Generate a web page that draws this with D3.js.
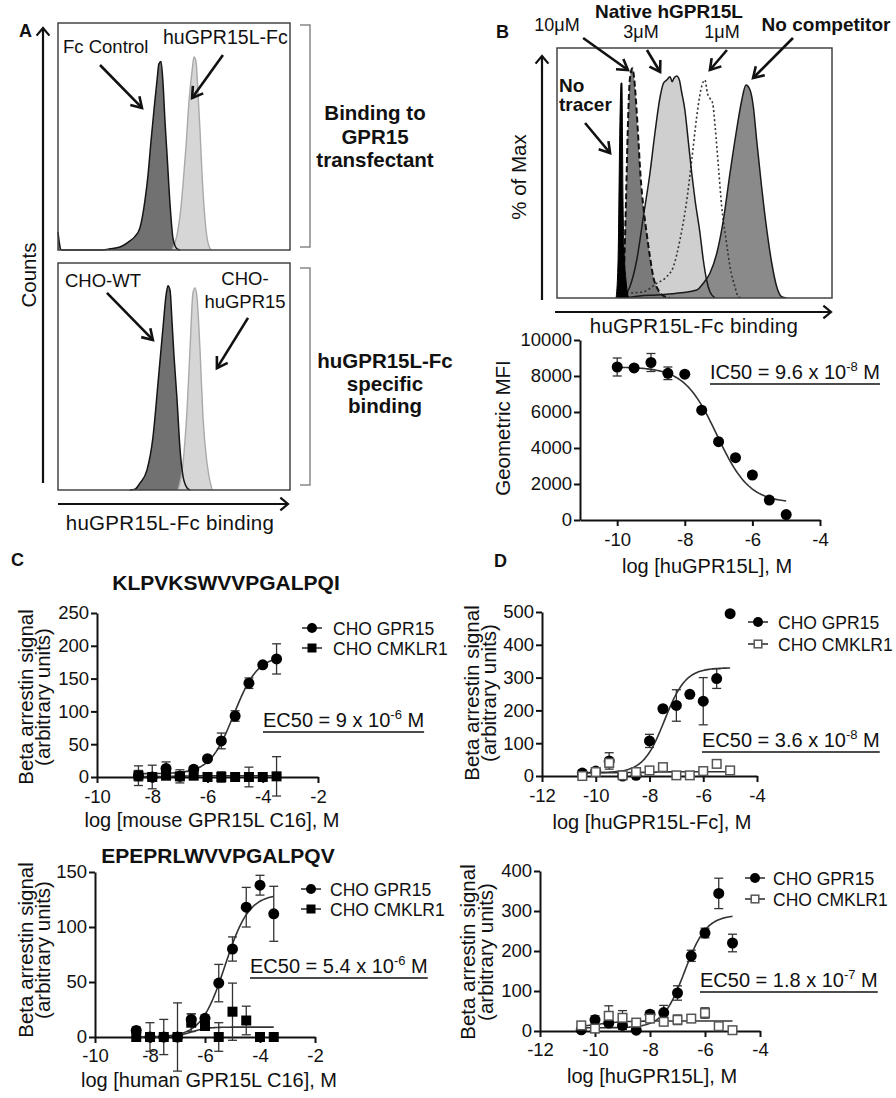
<!DOCTYPE html>
<html><head><meta charset="utf-8">
<script src="https://cdn.jsdelivr.net/npm/d3@7"></script>
<style>
html,body{margin:0;padding:0;background:#fff;}
svg text{font-family:"Liberation Sans",Arial,Helvetica,sans-serif;fill:#111;}
</style></head><body>
<svg id="fig" width="896" height="1098"></svg>
<script>
// ---------------- DATA ----------------
// Panel A histograms: [channel (0-100 across plot), count as % of plot height]
const aFcControl = [[0,8],[0.6,3],[1.5,0],[18,0],[22.4,0.5],[26.7,1.3],[31,4],[33.2,6],[35.3,9.7],[37.5,22],[38.8,33],[40.1,48],[41.4,62],[42.7,75],[43.5,82],[44.4,83],[45.3,73],[46.1,57],[47,42],[48.3,20],[49.6,5],[51.3,0.5],[52.6,0]];
const aHuGPR15LFc = [[49.1,0],[51.3,6.6],[52.6,15],[53.9,29],[55.2,46],[56.5,66],[57.8,79],[58.6,85],[59.5,83],[60.3,70],[61.2,53],[62.1,33],[63.4,13],[64.7,3],[66,0]];
const aChoWT = [[31,0],[33.2,0.4],[35.3,3],[38.4,9],[40.9,23],[43.1,47],[45.3,72],[46.6,86],[47.4,90],[48.3,88],[49.1,75],[50,59],[51.3,40],[52.6,18],[53.9,6],[55.6,1],[56.9,0]];
const aChoHuGPR15 = [[51.7,0],[53.9,12],[55.6,35],[56.9,62],[58.2,87],[59.1,89],[59.9,85],[61.2,62],[62.5,32],[64.2,12],[66.4,0]];

// Panel B histograms
const bNoCompetitor = [[25,0],[30,0.8],[36.3,1.2],[43.5,1.9],[50.8,3.2],[53.2,5.9],[55.6,9.9],[58.1,17.9],[60.5,31.2],[62.9,49.9],[65.3,67.2],[67.2,79.2],[68.7,85.2],[70.2,83.2],[71.4,76.5],[72.6,63.2],[74.4,44.5],[76.3,27.2],[78.1,13.9],[79.9,4.5],[81.7,0.5],[83.5,0]];
const b3uM = [[24.1,0],[26.5,4.5],[29,15.2],[31.4,32.5],[33.8,49.9],[35.6,65.9],[37.5,80.5],[38.7,85.9],[39.9,87.2],[41.1,88.5],[41.9,86.5],[42.5,87.9],[43.5,88.8],[44.5,87.2],[45.3,82.5],[46.5,75.2],[47.7,63.2],[49,49.9],[50.2,39.2],[52,25.9],[53.2,15.2],[54.4,7.2],[55.6,2.5],[57.5,0]];
const b10uM = [[23.5,0],[24.4,12.5],[25.1,39.2],[25.7,65.9],[26.3,84.5],[26.9,90.5],[27.4,91.9],[28,88.5],[28.7,79.2],[29.6,63.2],[30.4,48.5],[31.4,36.5],[32.6,25.9],[33.8,16.5],[35,8.5],[36.8,3.2],[39.3,0.5],[41.1,0]];
const b1uM = [[25.3,1.9],[31.4,2.5],[36.3,5.9],[39.9,8.5],[42.3,12.5],[44.7,23.2],[47.2,39.2],[49,55.2],[50.8,72.5],[52.3,83.2],[53.2,86.5],[53.8,87.2],[54.7,81.9],[55.6,79.9],[56.6,77.9],[57.5,68.5],[58.7,52.5],[59.9,36.5],[61.5,23.2],[62.9,12.5],[64.7,4.5],[65.9,0.5],[67.2,0]];
const bNoTracer = [[21.5,0],[22.2,15],[22.9,71],[23.3,86],[23.6,86],[24,39],[24.4,19],[25.1,7],[25.8,1],[26.5,0]];

// Panel B competition curve
const bLogConc = [-10,-9.5,-9,-8.5,-8,-7.5,-7,-6.5,-6,-5.5,-5];
const bMFI = [8500,8450,8750,8150,8100,6100,4350,3460,2500,1110,300];
const bMFIerr = [500,0,500,350,0,0,0,0,0,0,0];
const bFit = [8500,950,-7.05,-0.9]; // top, bottom, logIC50, hill
const bYTicks = [0,2000,4000,6000,8000,10000];
const bXTicks = [-10,-8,-6,-4];

// Panel C
const cLog = [-8.5,-8,-7.5,-7,-6.5,-6,-5.5,-5,-4.5,-4,-3.5];
const cTopGPR15 = [2,0,13,1,12,28,55,93,143,171,180];
const cTopGPR15err = [15,18,10,10,3,3,12,8,8,3,23];
const cTopCMKLR1 = [2,0,2,1,2,0,0,0,0,0,1];
const cTopCMKLR1err = [8,6,5,5,0,0,8,0,15,0,30];
const cTopFitGPR15 = [185,5,-5.05,1.0];
const cTopFitCMKLR1 = [2,0.5,-7,1];
const cBotGPR15 = [6,0,0,0,16,17,49,80,118,138,112];
const cBotGPR15err = [3,13,16,31,5,3,17,11,18,9,25];
const cBotCMKLR1 = [0,0,0,0,13,10,0,23,15,0,0];
const cBotCMKLR1err = [0,0,0,0,8,0,13,26,13,0,0];
const cBotFitGPR15 = [130,0,-5.27,1.0];
const cBotFitCMKLR1 = [9,0,-6.5,1.5];
const cXTicks = [-10,-8,-6,-4,-2];
const cTopYTicks = [0,50,100,150,200,250];
const cBotYTicks = [0,50,100,150];

// Panel D
const dLog = [-10.5,-10,-9.5,-9,-8.5,-8,-7.5,-7,-6.5,-6,-5.5,-5];
const dTopGPR15 = [9,15,46,0,2,107,205,215,249,228,297,495];
const dTopGPR15err = [7,5,25,0,0,20,0,48,0,72,30,0];
const dTopCMKLR1 = [0,12,40,2,12,17,27,2,2,15,37,17];
const dTopCMKLR1err = [0,0,0,0,0,0,0,0,0,0,0,0];
const dTopFitGPR15 = [330,10,-7.44,1.1];
const dTopFitCMKLR1 = [13,10,-8,1];
const dBotGPR15 = [3,28,20,14,2,42,46,95,188,245,344,220];
const dBotGPR15err = [0,10,0,10,0,8,18,18,14,12,38,22];
const dBotCMKLR1 = [14,6,38,33,21,31,23,28,31,45,12,2];
const dBotCMKLR1err = [0,5,25,18,5,0,0,12,0,13,0,0];
const dBotFitGPR15 = [290,8,-6.74,1.1];
const dBotFitCMKLR1 = [25,10,-9.8,1];
const dXTicks = [-12,-10,-8,-6,-4];
const dTopYTicks = [0,100,200,300,400,500];
const dBotYTicks = [0,100,200,300,400];

// ---------------- DRAWING ----------------
const svg = d3.select('#fig');
const FONT = '"Liberation Sans", Arial, Helvetica, sans-serif';

function txt(g, x, y, s, o = {}) {
  const t = g.append('text').attr('x', x).attr('y', y)
    .attr('font-size', o.size || 18)
    .attr('font-weight', o.bold ? 'bold' : 'normal')
    .attr('text-anchor', o.anchor || 'start').text(s);
  if (o.ls) t.attr('letter-spacing', o.ls);
  if (o.rot) t.attr('transform', `rotate(${o.rot},${x},${y})`);
  return t;
}
function arrow(g, x1, y1, x2, y2, o = {}) {
  const w = o.w || 2.6, head = o.head || 12, ang = (o.ang || 32) * Math.PI / 180;
  const a = Math.atan2(y2 - y1, x2 - x1);
  g.append('line').attr('x1', x1).attr('y1', y1).attr('x2', x2).attr('y2', y2)
    .attr('stroke', '#111').attr('stroke-width', w);
  const p = [[x2 - head * Math.cos(a - ang), y2 - head * Math.sin(a - ang)], [x2, y2],
             [x2 - head * Math.cos(a + ang), y2 - head * Math.sin(a + ang)]];
  g.append('path').attr('d', d3.line()(p)).attr('fill', 'none').attr('stroke', '#111')
    .attr('stroke-width', w).attr('stroke-linejoin', 'miter');
}
function histFill(g, x, y, data, fill) {
  const area = d3.area().x(d => x(d[0])).y0(y(0)).y1(d => y(d[1])).curve(d3.curveMonotoneX);
  g.append('path').attr('d', area(data)).attr('fill', fill);
}
function histLine(g, x, y, data, stroke, sw, dash) {
  const line = d3.line().x(d => x(d[0])).y(d => y(d[1])).curve(d3.curveMonotoneX);
  g.append('path').attr('d', line(data)).attr('fill', 'none').attr('stroke', stroke)
    .attr('stroke-width', sw).attr('stroke-dasharray', dash || null);
}

// ===== Panel A =====
const gA = svg.append('g');
const aX = d3.scaleLinear().domain([0, 100]).range([58, 290]);
const aTopY = d3.scaleLinear().domain([0, 100]).range([250, 23]);
const aBotY = d3.scaleLinear().domain([0, 100]).range([490, 263]);

histFill(gA, aX, aTopY, aFcControl, '#717171');
histFill(gA, aX, aTopY, aHuGPR15LFc, '#d6d6d6');
histLine(gA, aX, aTopY, aHuGPR15LFc, '#a9a9a9', 1.4);
histLine(gA, aX, aTopY, aFcControl, '#151515', 1.5);
gA.append('rect').attr('x', 58).attr('y', 23).attr('width', 232).attr('height', 227)
  .attr('fill', 'none').attr('stroke', '#444').attr('stroke-width', 1.5);

histFill(gA, aX, aBotY, aChoWT, '#717171');
histFill(gA, aX, aBotY, aChoHuGPR15, '#d6d6d6');
histLine(gA, aX, aBotY, aChoHuGPR15, '#a9a9a9', 1.4);
histLine(gA, aX, aBotY, aChoWT, '#151515', 1.5);
gA.append('rect').attr('x', 58).attr('y', 263).attr('width', 232).attr('height', 227)
  .attr('fill', 'none').attr('stroke', '#444').attr('stroke-width', 1.5);

txt(gA, 63, 53, 'Fc Control', {size: 18.5});
txt(gA, 163, 44, 'huGPR15L-Fc', {size: 19.5});
arrow(gA, aX(18.1), aTopY(81.5), aX(36.2), aTopY(62.6));
arrow(gA, aX(71.1), aTopY(85.9), aX(57.8), aTopY(67));
txt(gA, 65, 287, 'CHO-WT', {size: 18.5});
txt(gA, 245, 285, 'CHO-', {size: 18.5, anchor: 'middle'});
txt(gA, 245, 308, 'huGPR15', {size: 18.5, anchor: 'middle'});
arrow(gA, aX(21.1), aBotY(86.8), aX(40.9), aBotY(66.1));
arrow(gA, aX(81.9), aBotY(75.8), aX(68.5), aBotY(53.7));

// axes arrows
arrow(gA, 43, 483, 43, 28, {w: 2.2, head: 10, ang: 40});
arrow(gA, 58, 504, 288, 504, {w: 2.2, head: 10, ang: 40});
txt(gA, 36, 275, 'Counts', {size: 20.5, anchor: 'middle', rot: -90});
txt(gA, 170, 530, 'huGPR15L-Fc binding', {size: 20.5, anchor: 'middle', ls: 0.3});
txt(gA, 19, 37, 'A', {size: 18, bold: true});

// brackets
gA.append('path').attr('d', 'M300,25H310V247H300').attr('fill', 'none').attr('stroke', '#888').attr('stroke-width', 1.5);
gA.append('path').attr('d', 'M300,268H310V485H300').attr('fill', 'none').attr('stroke', '#888').attr('stroke-width', 1.5);
txt(gA, 375, 120, 'Binding to', {size: 20.5, bold: true, anchor: 'middle'});
txt(gA, 375, 144, 'GPR15', {size: 20.5, bold: true, anchor: 'middle'});
txt(gA, 375, 167, 'transfectant', {size: 20.5, bold: true, anchor: 'middle'});
txt(gA, 385, 368, 'huGPR15L-Fc', {size: 20.5, bold: true, anchor: 'middle'});
txt(gA, 385, 391, 'specific', {size: 20.5, bold: true, anchor: 'middle'});
txt(gA, 385, 413, 'binding', {size: 20.5, bold: true, anchor: 'middle'});

// ===== Panel B histogram =====
const gB = svg.append('g');
const bX = d3.scaleLinear().domain([0, 100]).range([557, 832]);
const bY = d3.scaleLinear().domain([0, 100]).range([298, 48]);
const clip = svg.append('defs').append('clipPath').attr('id', 'bclip');
clip.append('rect').attr('x', 557).attr('y', 48).attr('width', 275).attr('height', 250);
const gBh = gB.append('g').attr('clip-path', 'url(#bclip)');
histFill(gBh, bX, bY, b3uM, '#cfcfcf');
histFill(gBh, bX, bY, bNoCompetitor, '#8a8a8a');
histFill(gBh, bX, bY, b10uM, '#7a7a7a');
histLine(gBh, bX, bY, b1uM, '#333', 1.6, '2,2.5');
histLine(gBh, bX, bY, b3uM, '#1a1a1a', 1.5);
histLine(gBh, bX, bY, bNoCompetitor, '#1a1a1a', 1.5);
histLine(gBh, bX, bY, b10uM, '#111', 2, '6,3');
histFill(gBh, bX, bY, bNoTracer, '#000');
histLine(gBh, bX, bY, bNoTracer, '#000', 1);
gB.append('rect').attr('x', 557).attr('y', 48).attr('width', 275).attr('height', 250)
  .attr('fill', 'none').attr('stroke', '#444').attr('stroke-width', 1.5);

arrow(gB, 542, 300, 542, 56, {w: 2.2, head: 10, ang: 40});
arrow(gB, 555, 312, 831, 312, {w: 2.2, head: 10, ang: 40});
txt(gB, 526, 177, '% of Max', {size: 20.5, anchor: 'middle', rot: -90});
txt(gB, 694, 333, 'huGPR15L-Fc binding', {size: 20.5, anchor: 'middle', ls: 0.3});
txt(gB, 496, 38, 'B', {size: 18, bold: true});
txt(gB, 669, 18, 'Native hGPR15L', {size: 19, bold: true, anchor: 'middle'});
txt(gB, 557, 31, '10μM', {size: 18, anchor: 'middle'});
txt(gB, 641, 38, '3μM', {size: 18, anchor: 'middle'});
txt(gB, 722, 38, '1μM', {size: 18, anchor: 'middle'});
txt(gB, 826, 31, 'No competitor', {size: 19, bold: true, anchor: 'middle'});
txt(gB, 559, 92, 'No', {size: 19, bold: true});
txt(gB, 559, 111, 'tracer', {size: 19, bold: true});
arrow(gB, bX(9.5), bY(104), bX(25.8), bY(91.2));
arrow(gB, bX(32.7), bY(99.2), bX(37.5), bY(90.4));
arrow(gB, bX(61.8), bY(99.2), bX(55.6), bY(91.2));
arrow(gB, bX(85.8), bY(104), bX(71.3), bY(88));
arrow(gB, bX(10.2), bY(70), bX(19.3), bY(58));

// ===== Dose-response panels =====
function fourPL(p) { return x => p[1] + (p[0] - p[1]) / (1 + Math.pow(10, (p[2] - x) * p[3])); }

function ecText(g, x, y, main, sup) {
  const t = g.append('text').attr('x', x).attr('y', y).attr('font-size', 20);
  t.append('tspan').text(main);
  t.append('tspan').attr('font-size', 13).attr('dy', -8).text(sup);
  t.append('tspan').attr('dy', 8).text(' M');
  const len = t.node().getComputedTextLength();
  g.append('line').attr('x1', x).attr('x2', x + len).attr('y1', y + 5).attr('y2', y + 5)
    .attr('stroke', '#111').attr('stroke-width', 1.6);
}

function marker(g, type, cx, cy, r) {
  if (type === 'circle') {
    g.append('circle').attr('cx', cx).attr('cy', cy).attr('r', r).attr('fill', '#000');
  } else if (type === 'square') {
    g.append('rect').attr('x', cx - r).attr('y', cy - r).attr('width', 2 * r).attr('height', 2 * r).attr('fill', '#000');
  } else {
    g.append('rect').attr('x', cx - r + 0.7).attr('y', cy - r + 0.7).attr('width', 2 * r - 1.4).attr('height', 2 * r - 1.4)
      .attr('fill', '#fff').attr('stroke', '#555').attr('stroke-width', 1.5);
  }
}

function drPanel(c) {
  const g = svg.append('g');
  const x = d3.scaleLinear().domain(c.xDomain).range(c.xRange);
  const y = d3.scaleLinear().domain(c.yDomain).range(c.yRange);
  const ax = g.append('g').attr('transform', `translate(0,${c.yRange[0]})`)
    .call(d3.axisBottom(x).tickValues(c.xTicks).tickSize(6).tickSizeOuter(0).tickPadding(c.xPad || 7).tickFormat(d => String(d)));
  const ay = g.append('g').attr('transform', `translate(${c.xRange[0]},0)`)
    .call(d3.axisLeft(y).tickValues(c.yTicks).tickSize(6).tickSizeOuter(0).tickPadding(2).tickFormat(d => String(d)));
  [ax, ay].forEach(a => {
    a.attr('font-size', 18.5).attr('font-family', FONT);
    a.select('.domain').attr('stroke', '#111').attr('stroke-width', 2);
    a.selectAll('.tick line').attr('stroke', '#111').attr('stroke-width', 2);
    a.selectAll('.tick text').attr('fill', '#111');
  });
  // fitted curves
  c.series.forEach(s => {
    if (!s.fit) return;
    const f = fourPL(s.fit);
    const xs = d3.range(s.fitRange[0], s.fitRange[1] + 0.001, 0.05);
    g.append('path').attr('d', d3.line().x(d => x(d)).y(d => y(f(d)))(xs))
      .attr('fill', 'none').attr('stroke', '#333').attr('stroke-width', 1.6);
  });
  // error bars & points
  c.series.forEach(s => {
    s.y.forEach((v, i) => {
      const e = s.err ? s.err[i] : 0;
      if (e > 0) {
        const px = x(s.x[i]);
        g.append('line').attr('x1', px).attr('x2', px).attr('y1', y(v - e)).attr('y2', y(v + e)).attr('stroke', '#333').attr('stroke-width', 1.3);
        [v - e, v + e].forEach(w => g.append('line').attr('x1', px - 4.5).attr('x2', px + 4.5).attr('y1', y(w)).attr('y2', y(w)).attr('stroke', '#333').attr('stroke-width', 1.3));
      }
    });
  });
  c.series.forEach(s => {
    s.y.forEach((v, i) => marker(g, s.marker, x(s.x[i]), y(v), s.marker === 'circle' ? 5.5 : 5));
  });
  // labels
  txt(g, c.xLabel[1], c.xLabel[2], c.xLabel[0], {size: 20, anchor: 'middle'});
  c.yLabel.forEach(l => txt(g, l[1], l[2], l[0], {size: 20.5, anchor: 'middle', rot: -90}));
  if (c.legend) {
    const L = c.legend;
    c.series.forEach((s, i) => {
      const cy = L.y + i * L.dy;
      g.append('line').attr('x1', L.x - 10).attr('x2', L.x + 10).attr('y1', cy).attr('y2', cy).attr('stroke', '#333').attr('stroke-width', 1.6);
      marker(g, s.marker, L.x, cy, s.marker === 'circle' ? 5 : 4.5);
      txt(g, L.tx, cy + 6.5, s.name, {size: 17.5});
    });
  }
  if (c.ec) ecText(g, c.ec[0], c.ec[1], c.ec[2], c.ec[3]);
  return g;
}

// B curve
drPanel({
  xDomain: [-11.1, -4], xRange: [580, 820], yDomain: [0, 10000], yRange: [520, 340],
  xTicks: bXTicks, yTicks: bYTicks,
  series: [{name: '', x: bLogConc, y: bMFI, err: bMFIerr, marker: 'circle', fit: bFit, fitRange: [-10, -5]}],
  xLabel: ['log [huGPR15L], M', 707, 573],
  yLabel: [['Geometric MFI', 510, 428]],
  ec: [710, 379, 'IC50 = 9.6 x 10', '-8']
});

// C top
drPanel({
  xDomain: [-10, -2], xRange: [97, 318], yDomain: [0, 250], yRange: [777, 613],
  xTicks: cXTicks, yTicks: cTopYTicks,
  series: [
    {name: 'CHO GPR15', x: cLog, y: cTopGPR15, err: cTopGPR15err, marker: 'circle', fit: cTopFitGPR15, fitRange: [-8.5, -3.5]},
    {name: 'CHO CMKLR1', x: cLog, y: cTopCMKLR1, err: cTopCMKLR1err, marker: 'square', fit: cTopFitCMKLR1, fitRange: [-8.5, -3.5]}
  ],
  xLabel: ['log [mouse GPR15L C16], M', 212, 827],
  yLabel: [['Beta arrestin signal', 33, 697], ['(arbitrary units)', 50, 697]],
  legend: {x: 312, y: 628, dy: 20, tx: 333},
  ec: [263, 727, 'EC50 = 9 x 10', '-6']
});
// C bottom
drPanel({
  xDomain: [-10, -2], xRange: [95, 315], yDomain: [0, 150], yRange: [1037, 872],
  xTicks: cXTicks, yTicks: cBotYTicks, xPad: 6,
  series: [
    {name: 'CHO GPR15', x: cLog, y: cBotGPR15, err: cBotGPR15err, marker: 'circle', fit: cBotFitGPR15, fitRange: [-8.5, -3.5]},
    {name: 'CHO CMKLR1', x: cLog, y: cBotCMKLR1, err: cBotCMKLR1err, marker: 'square', fit: cBotFitCMKLR1, fitRange: [-8.5, -3.5]}
  ],
  xLabel: ['log [human GPR15L C16], M', 209, 1087],
  yLabel: [['Beta arrestin signal', 33, 950], ['(arbitrary units)', 50, 950]],
  legend: {x: 311, y: 889, dy: 20, tx: 330},
  ec: [250, 973, 'EC50 = 5.4 x 10', '-6']
});
// D top
drPanel({
  xDomain: [-12, -4], xRange: [542, 757], yDomain: [0, 500], yRange: [776, 612],
  xTicks: dXTicks, yTicks: dTopYTicks,
  series: [
    {name: 'CHO GPR15', x: dLog, y: dTopGPR15, err: dTopGPR15err, marker: 'circle', fit: dTopFitGPR15, fitRange: [-10.5, -5]},
    {name: 'CHO CMKLR1', x: dLog, y: dTopCMKLR1, err: dTopCMKLR1err, marker: 'open', fit: dTopFitCMKLR1, fitRange: [-10.5, -5]}
  ],
  xLabel: ['log [huGPR15L-Fc], M', 652, 829],
  yLabel: [['Beta arrestin signal', 479, 693], ['(arbitrary units)', 496, 693]],
  legend: {x: 758, y: 622, dy: 22, tx: 778},
  ec: [702, 747, 'EC50 = 3.6 x 10', '-8']
});
// D bottom
drPanel({
  xDomain: [-12, -4], xRange: [540, 760], yDomain: [0, 400], yRange: [1031, 871],
  xTicks: dXTicks, yTicks: dBotYTicks, xPad: 6,
  series: [
    {name: 'CHO GPR15', x: dLog, y: dBotGPR15, err: dBotGPR15err, marker: 'circle', fit: dBotFitGPR15, fitRange: [-10.5, -5]},
    {name: 'CHO CMKLR1', x: dLog, y: dBotCMKLR1, err: dBotCMKLR1err, marker: 'open', fit: dBotFitCMKLR1, fitRange: [-10.5, -5]}
  ],
  xLabel: ['log [huGPR15L], M', 652, 1083],
  yLabel: [['Beta arrestin signal', 475, 952], ['(arbitrary units)', 493, 952]],
  legend: {x: 755, y: 878, dy: 21, tx: 773},
  ec: [700, 987, 'EC50 = 1.8 x 10', '-7']
});

// panel titles and letters
txt(svg, 11, 566, 'C', {size: 18, bold: true});
txt(svg, 494, 567, 'D', {size: 18, bold: true});
txt(svg, 226, 590, 'KLPVKSWVVPGALPQI', {size: 21, bold: true, anchor: 'middle'});
txt(svg, 218, 863, 'EPEPRLWVVPGALPQV', {size: 21, bold: true, anchor: 'middle'});
</script>
</body></html>
